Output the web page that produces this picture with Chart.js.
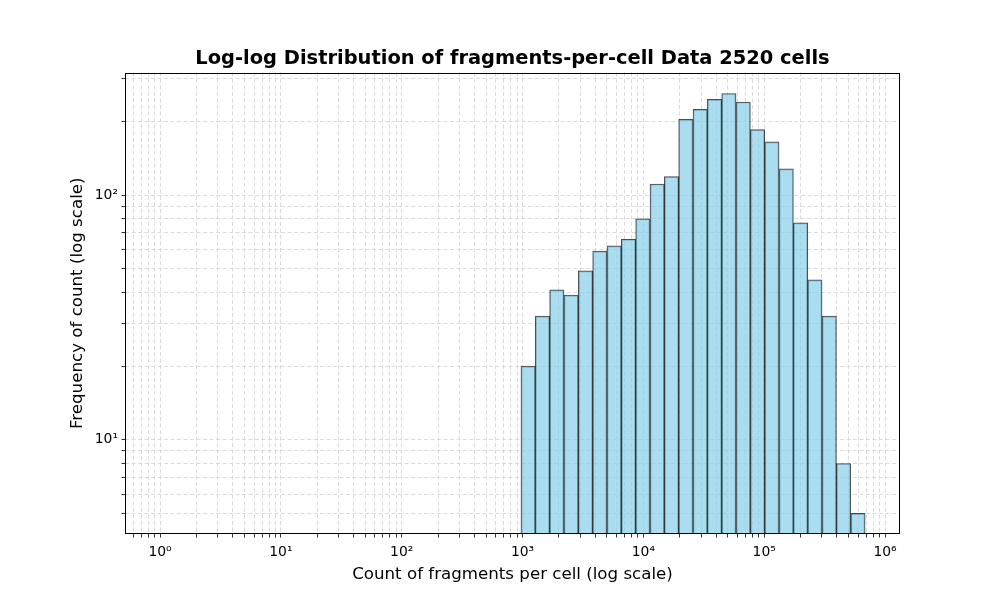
<!DOCTYPE html>
<html><head><meta charset="utf-8">
<script src="https://cdn.jsdelivr.net/npm/chart.js@4"></script>
<style>html,body{margin:0;padding:0;background:#fff}#wrap{width:1000px;height:600px}</style>
</head><body><div id="wrap"><canvas id="c" width="1000" height="600"></canvas></div>
<script>
// Histogram bins (geometric bin centres) and counts
const binCenters = [1112.5, 1462, 1922, 2525, 3319, 4363, 5732, 7534, 9901, 13013, 17100, 22475,
                    29532, 38815, 51014, 67036, 88105, 115810, 152150, 199990, 262850, 345440, 453940, 596680];
const counts = [20, 32, 41, 39, 49, 59, 62, 66, 80, 111, 119, 204,
                224, 246, 260, 240, 185, 165, 128, 77, 45, 32, 8, 5];
const xMajorTicks = [1, 10, 100, 1000, 10000, 100000, 1000000];
const xTickLabels = ['10⁰', '10¹', '10²', '10³', '10⁴', '10⁵', '10⁶'];
const yMajorTicks = [10, 100];
const yTickLabels = ['10¹', '10²'];
const xRange = [0.513, 1.33e6];
const yRange = [4.12, 316.8];

function logTicks(min, max) {
  const out = [];
  for (let e = Math.floor(Math.log10(min)); e <= Math.ceil(Math.log10(max)); e++) {
    for (let m = 1; m <= 9; m++) {
      const v = m * Math.pow(10, e);
      if (v >= min && v <= max) out.push(v);
    }
  }
  return out;
}
function labelFor(v, majors, labels) {
  for (let i = 0; i < majors.length; i++) {
    if (Math.abs(v - majors[i]) / majors[i] < 1e-6) return labels[i];
  }
  return '';
}

const FONT = 'DejaVu Sans';
const gridColor = '#d2d2d2';

const frame = {
  id: 'frame',
  afterDraw(chart) {
    const {ctx, chartArea: a} = chart;
    ctx.save();
    ctx.strokeStyle = '#000';
    ctx.lineWidth = 1;
    const l = Math.round(a.left) + 0.5, t = Math.round(a.top) + 0.5;
    const r = Math.round(a.right) - 0.5, b = Math.round(a.bottom) - 0.5;
    ctx.strokeRect(l, t, r - l, b - t);
    ctx.restore();
  }
};

const chart = new Chart(document.getElementById('c'), {
  type: 'bar',
  data: {
    datasets: [{
      data: binCenters.map((x, i) => ({x: x, y: counts[i]})),
      backgroundColor: 'rgba(135,206,235,0.7)',
      borderColor: 'rgba(0,0,0,0.7)',
      borderWidth: 1,
      borderSkipped: 'start',
      categoryPercentage: 1,
      barPercentage: 1
    }]
  },
  options: {
    responsive: false,
    animation: false,
    devicePixelRatio: 1,
    layout: {padding: {left: 0, right: 100, top: 0, bottom: 0}},
    plugins: {
      legend: {display: false},
      tooltip: {enabled: false},
      title: {
        display: true,
        fullSize: false,
        text: 'Log-log Distribution of fragments-per-cell Data 2520 cells',
        color: '#000',
        font: {family: FONT, size: 19.44, weight: 'bold', lineHeight: 1.2},
        padding: {top: 47.5, bottom: 1.7}
      }
    },
    scales: {
      x: {
        type: 'logarithmic',
        min: xRange[0], max: xRange[1],
        offset: false,
        afterBuildTicks: s => { s.ticks = logTicks(xRange[0], xRange[1]).map(v => ({value: v})); },
        afterFit: s => { s.height = 66; },
        ticks: {
          autoSkip: false, maxRotation: 0, minRotation: 0,
          color: '#000', padding: 7,
          font: {family: FONT, size: 13.9},
          callback: v => labelFor(v, xMajorTicks, xTickLabels)
        },
        grid: {offset: false, color: gridColor, lineWidth: 0.8, tickColor: '#000', tickLength: 3.5, tickWidth: 0.8, tickBorderDash: []},
        border: {display: false, dash: [4, 2.5]},
        title: {
          display: true, text: 'Count of fragments per cell (log scale)', color: '#000',
          font: {family: FONT, size: 16.67, lineHeight: 1.2},
          padding: {top: 0, bottom: 15.4}
        }
      },
      y: {
        type: 'logarithmic',
        min: yRange[0], max: yRange[1],
        beginAtZero: false,
        afterBuildTicks: s => { s.ticks = logTicks(yRange[0], yRange[1]).map(v => ({value: v})); },
        afterFit: s => { s.width = 125; },
        ticks: {
          autoSkip: false, color: '#000', padding: 3.5,
          font: {family: FONT, size: 13.9},
          callback: v => labelFor(v, yMajorTicks, yTickLabels)
        },
        grid: {color: gridColor, lineWidth: 0.8, tickColor: '#000', tickLength: 3.5, tickWidth: 0.8, tickBorderDash: []},
        border: {display: false, dash: [4, 2.5]},
        title: {
          display: true, text: 'Frequency of count (log scale)', color: '#000',
          font: {family: FONT, size: 16.67, lineHeight: 1.2},
          padding: {top: 67.4, bottom: 0}
        }
      }
    }
  },
  plugins: [frame]
});

// Bars span a full log-spaced bin: width taken from the x scale's pixel spacing of bin centres
const xs = chart.scales.x;
chart.data.datasets[0].barThickness = xs.getPixelForValue(binCenters[1]) - xs.getPixelForValue(binCenters[0]);
chart.update();
</script>
</body></html>
